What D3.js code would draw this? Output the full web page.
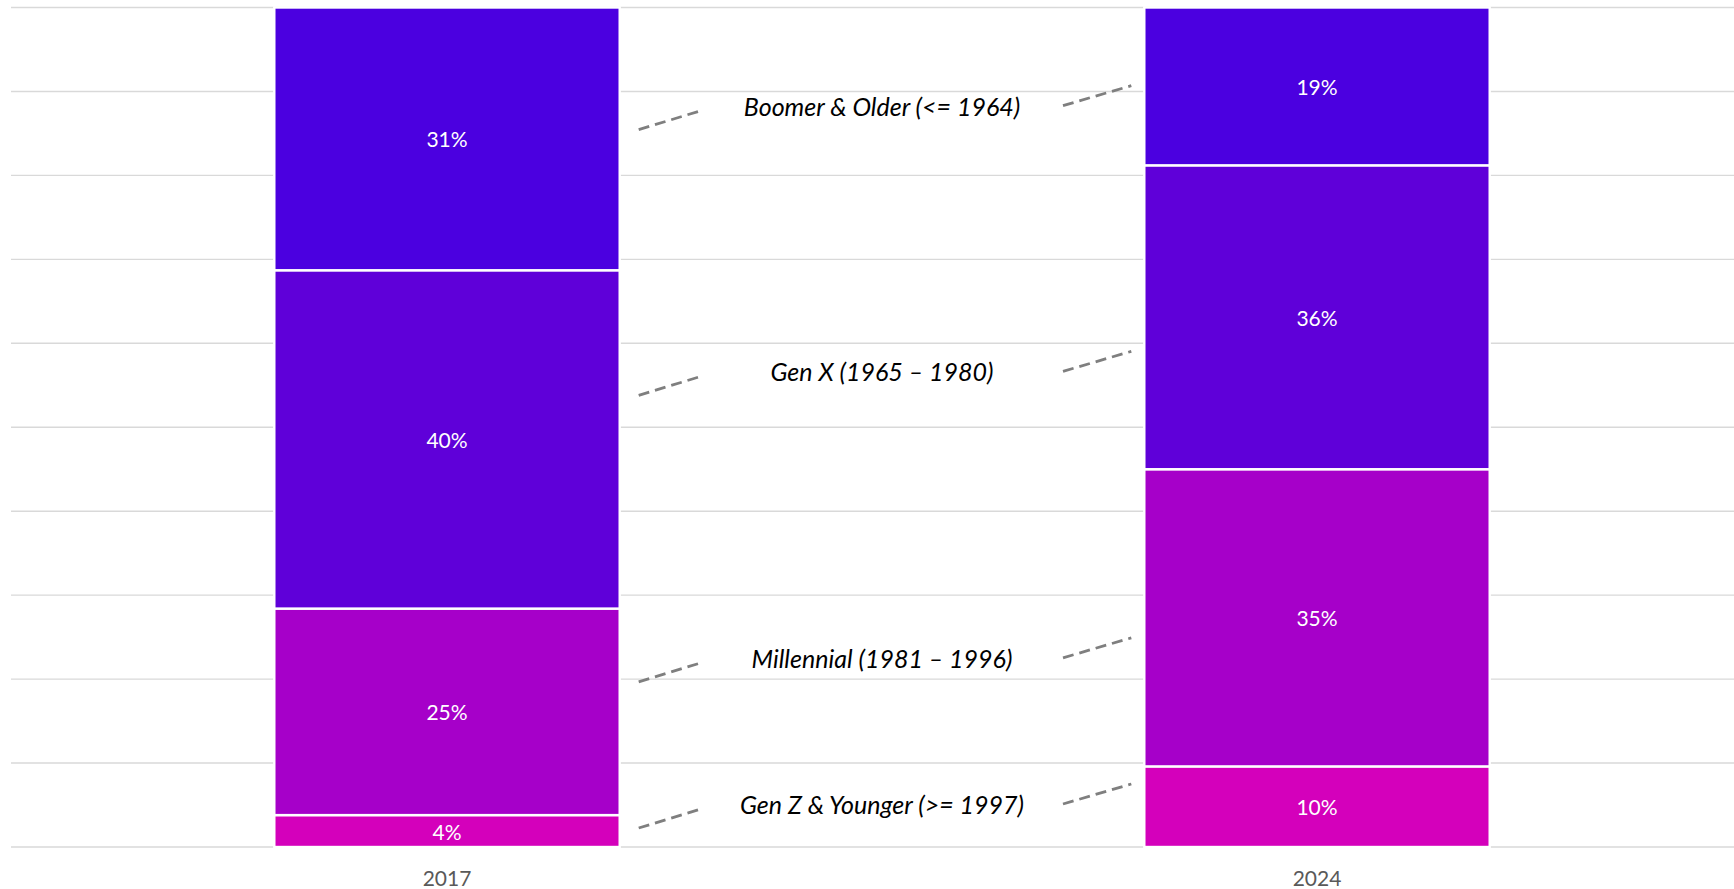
<!DOCTYPE html>
<html>
<head>
<meta charset="utf-8">
<script src="https://cdn.jsdelivr.net/npm/d3@7"></script>
<style>
  body { margin: 0; background: #fff; }
  svg { display: block; font-family: Lato, "Open Sans", sans-serif; }
</style>
</head>
<body>
<svg width="1734" height="889"></svg>
<script>
// values (share of each generation, %)
const years = ["2017", "2024"];
const generations = ["Gen Z & Younger (>= 1997)", "Millennial (1981 – 1996)", "Gen X (1965 – 1980)", "Boomer & Older (<= 1964)"];
const share2017 = [3.8, 24.6, 40.3, 31.3];
const share2024 = [9.6, 35.4, 36.2, 18.8];
const yTicks = [0, 10, 20, 30, 40, 50, 60, 70, 80, 90, 100];

const colors = ["#d400bb", "#a600c9", "#5f00d9", "#4b00e0"];

const svg = d3.select("svg");

const xScale = d3.scaleBand()
  .domain(years)
  .range([12, 1752])
  .paddingInner(0.603)
  .paddingOuter(0.3015);
const yScale = d3.scaleLinear()
  .domain([0, 100])
  .range([847, 7.5]);

// build rows for d3.stack
const rows = years.map((yr, i) => {
  const vals = i === 0 ? share2017 : share2024;
  const row = { year: yr };
  generations.forEach((g, j) => { row[g] = vals[j]; });
  return row;
});
const series = d3.stack().keys(generations)(rows);

// gridlines
svg.append("g")
  .selectAll("line")
  .data(yTicks)
  .enter().append("line")
    .attr("x1", 11)
    .attr("x2", 1734)
    .attr("y1", d => yScale(d))
    .attr("y2", d => yScale(d))
    .attr("stroke", "#d9d9d9")
    .attr("stroke-width", 1.4);

// bars
const layer = svg.append("g")
  .selectAll("g")
  .data(series)
  .enter().append("g")
    .attr("fill", (d, i) => colors[i]);

layer.selectAll("rect")
  .data(d => d)
  .enter().append("rect")
    .attr("x", d => xScale(d.data.year))
    .attr("y", d => yScale(d[1]))
    .attr("width", xScale.bandwidth())
    .attr("height", d => yScale(d[0]) - yScale(d[1]))
    .attr("stroke", "#fff")
    .attr("stroke-width", 2.4);

layer.selectAll("text")
  .data(d => d)
  .enter().append("text")
    .attr("x", d => xScale(d.data.year) + xScale.bandwidth() / 2)
    .attr("y", d => (yScale(d[0]) + yScale(d[1])) / 2)
    .attr("text-anchor", "middle")
    .attr("dominant-baseline", "central")
    .attr("fill", "#fff")
    .style("font-size", "21px")
    .text(d => Math.round(d[1] - d[0]) + "%");

// generation labels between the bars, each with a dashed leader on both sides
const xa = xScale(years[0]) + xScale.bandwidth();
const xb = xScale(years[1]);
const midX = (xa + xb) / 2;
const labelHalf = 181;

const labels = series.map(s => {
  const ya = yScale((s[0][0] + s[0][1]) / 2);
  const yb = yScale((s[1][0] + s[1][1]) / 2);
  const y = Math.min((ya + yb) / 2 - 7, yScale(0) - 43);
  return { key: s.key, y };
});

const leaders = svg.append("g")
  .attr("stroke", "#7f7f7f")
  .attr("stroke-width", 2.8)
  .attr("stroke-dasharray", "11,6");
labels.forEach(l => {
  leaders.append("line")
    .attr("x1", xa + 19).attr("y1", l.y + 24)
    .attr("x2", midX - labelHalf).attr("y2", l.y + 5);
  leaders.append("line")
    .attr("x1", midX + labelHalf).attr("y1", l.y)
    .attr("x2", xb - 13).attr("y2", l.y - 20);
});

svg.append("g")
  .selectAll("text")
  .data(labels)
  .enter().append("text")
    .attr("x", midX)
    .attr("y", d => d.y)
    .attr("text-anchor", "middle")
    .attr("dominant-baseline", "central")
    .attr("fill", "#000")
    .style("font-style", "italic")
    .style("font-size", "25px")
    .text(d => d.key);

// x axis labels
svg.append("g")
  .selectAll("text")
  .data(years)
  .enter().append("text")
    .attr("x", d => xScale(d) + xScale.bandwidth() / 2)
    .attr("y", 877)
    .attr("text-anchor", "middle")
    .attr("dominant-baseline", "central")
    .attr("fill", "#595959")
    .style("font-size", "21px")
    .text(d => d);
</script>
</body>
</html>
